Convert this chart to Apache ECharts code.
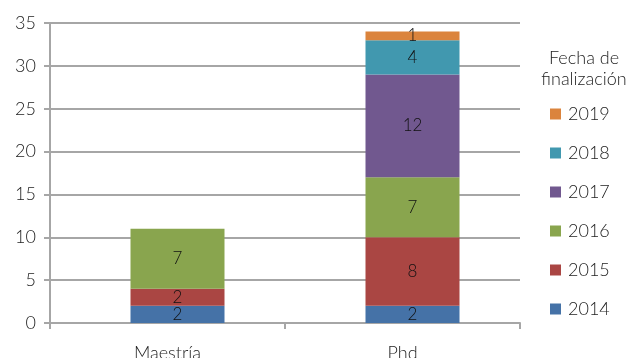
<!DOCTYPE html>
<html>
<head>
<meta charset="utf-8">
<script src="https://cdn.jsdelivr.net/npm/echarts@6/dist/echarts.min.js"></script>
<style>
  html, body { margin: 0; padding: 0; background: #fff; }
  #chart { width: 627px; height: 358px; }
</style>
</head>
<body>
<div id="chart"></div>
<script>
// Graduates by programme, stacked by completion year
const categories = ['Maestría', 'Phd'];
const years = ['2014', '2015', '2016', '2017', '2018', '2019'];
const v2014 = [2, 2];
const v2015 = [2, 8];
const v2016 = [7, 7];
const v2017 = [0, 12];
const v2018 = [0, 4];
const v2019 = [0, 1];
const yTicks = [0, 5, 10, 15, 20, 25, 30, 35];

const seriesValues = [v2014, v2015, v2016, v2017, v2018, v2019];
const colors = ['#4572A7', '#AA4643', '#89A54E', '#71588F', '#4198AF', '#DB843D'];

const FONT = 'Lato';
const gridColor = '#a6a6a6';

const chart = echarts.init(document.getElementById('chart'), null, { renderer: 'canvas' });

const series = years.map((y, i) => ({
  name: y,
  type: 'bar',
  stack: 'total',
  xAxisIndex: 1,
  yAxisIndex: 1,
  barWidth: '40%',
  itemStyle: { color: colors[i] },
  data: seriesValues[i].map(v => (v === 0 ? null : v)),
  label: {
    show: true,
    position: 'inside',
    color: '#111',
    fontFamily: FONT,
    fontWeight: 300,
    fontSize: 17
  }
}));

chart.setOption({
  animation: false,
  backgroundColor: '#fff',
  title: {
    text: 'Fecha de\nfinalización',
    left: 579,
    top: 43,
    textAlign: 'center',
    textStyle: {
      fontFamily: FONT,
      fontWeight: 300,
      fontSize: 18,
      lineHeight: 21,
      color: '#222'
    }
  },
  legend: {
    orient: 'vertical',
    left: 545,
    top: 100,
    icon: 'rect',
    itemWidth: 11,
    itemHeight: 11,
    itemGap: 21,
    data: years.slice().reverse(),
    textStyle: {
      fontFamily: FONT,
      fontWeight: 300,
      fontSize: 18,
      lineHeight: 12,
      color: '#222',
      padding: [0, 0, 0, 2]
    }
  },
  grid: [
    { left: 50, right: 107, top: 23, bottom: 35, outerBoundsMode: 'none' },
    { left: 60, right: 97, top: 23, bottom: 35, outerBoundsMode: 'none' }
  ],
  xAxis: [
    {
      type: 'category',
      gridIndex: 0,
      data: categories,
      axisLine: { lineStyle: { color: gridColor, width: 2 } },
      axisTick: { show: true, length: 6, lineStyle: { color: gridColor, width: 2 } },
      axisLabel: {
        margin: 21,
        fontFamily: FONT,
        fontWeight: 300,
        fontSize: 18,
        color: '#222'
      }
    },
    {
      type: 'category',
      gridIndex: 1,
      data: categories,
      show: false
    }
  ],
  yAxis: [
    {
      type: 'value',
      gridIndex: 0,
      min: yTicks[0],
      max: yTicks[yTicks.length - 1],
      interval: yTicks[1] - yTicks[0],
      axisLine: { show: true, lineStyle: { color: gridColor, width: 2 } },
      axisTick: { show: true, length: 6, lineStyle: { color: gridColor, width: 2 } },
      splitLine: { lineStyle: { color: gridColor, width: 2 } },
      axisLabel: {
        margin: 14,
        fontFamily: FONT,
        fontWeight: 300,
        fontSize: 18,
        color: '#222'
      }
    },
    {
      type: 'value',
      gridIndex: 1,
      min: yTicks[0],
      max: yTicks[yTicks.length - 1],
      show: false,
      splitLine: { show: false }
    }
  ],
  series: series
});
</script>
</body>
</html>
